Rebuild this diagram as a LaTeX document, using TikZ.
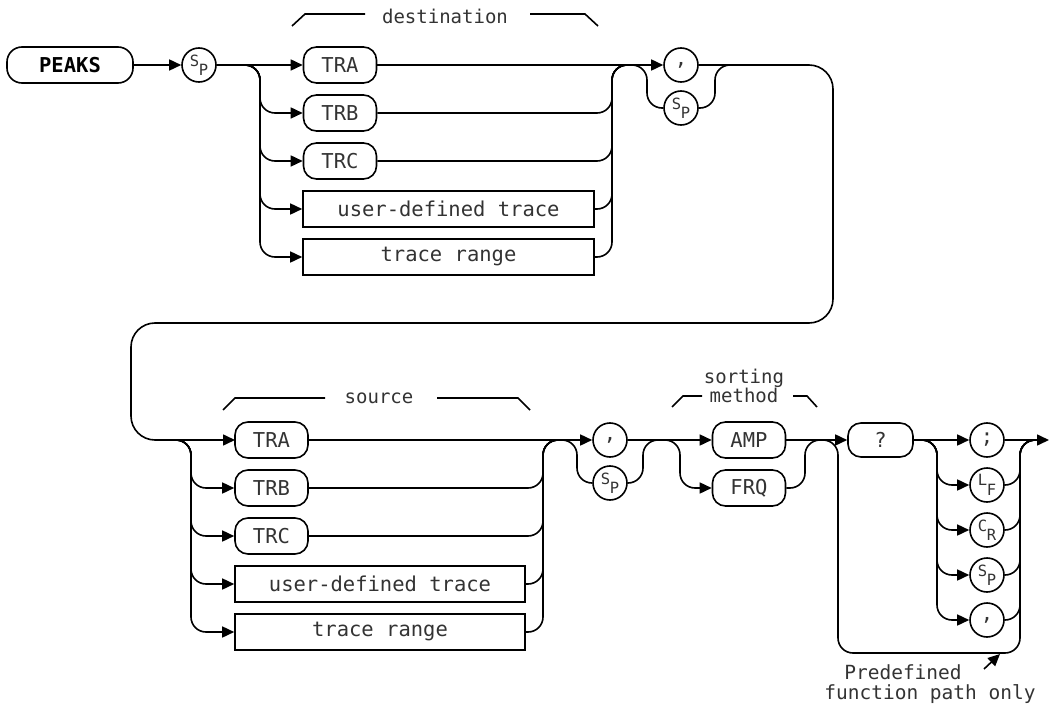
\documentclass[tikz,border=0pt]{standalone}
\usepackage{fontspec}
\setmonofont{DejaVu Sans Mono}
\usetikzlibrary{arrows.meta}
\newcommand\nodefont{\ttfamily\fontsize{20.5}{20.5}\selectfont}
\newcommand\lblfont{\ttfamily\fontsize{19}{18}\selectfont}
\newcommand\notefont{\ttfamily\fontsize{19.5}{19.5}\selectfont}
\newcommand\subfont{\ttfamily\fontsize{15.5}{15.5}\selectfont}
\newcommand\twol[2]{{\subfont\raisebox{3.5pt}{#1}\kern-0.5pt\raisebox{-6pt}{#2}}}
\begin{document}
\begin{tikzpicture}[x=1pt,y=-1pt,line width=1.6pt,
  term/.style={draw,rounded corners=13,minimum height=36,minimum width=73,inner sep=0,font=\nodefont,text=black!80},
  tbox/.style={draw,rectangle,minimum height=36,inner sep=0,font=\nodefont,text=black!80},
  circ/.style={draw,circle,minimum size=34,inner sep=0,font=\nodefont,text=black!80},
  arr/.style={-{Triangle[length=12pt,width=11pt]}},
  rc/.style={rounded corners=15},
  lbl/.style={font=\lblfont,inner sep=0,align=center,text=black!80},
  note/.style={font=\notefont,inner sep=0,text=black!80}]
\useasboundingbox (0,0) rectangle (1050,706);

% ---------- row 1 ----------
\node[term,minimum width=126,rounded corners=15,font=\nodefont\bfseries,text=black] (peaks) at (70,65) {PEAKS};
\node[circ] (sp1) at (199,65) {\twol SP};
\node[term] (dtra) at (340,65) {TRA};
\node[term] (dtrb) at (340,113) {TRB};
\node[term] (dtrc) at (340,161) {TRC};
\node[tbox,minimum width=291] (duser) at (448.5,209) {user-defined trace};
\node[tbox,minimum width=291] (drange) at (448.5,257) {trace range};
\node[circ] (comma1) at (681,65) {,};
\node[circ] (sp2) at (681,108) {\twol SP};

\node[lbl] (dest) at (445,16) {destination};
\draw (292,26) -- (305,14) -- (365,14);
\draw (530,14) -- (585,14) -- (598,26);

\draw[arr] (peaks) -- (sp1);
\draw[arr] (sp1) -- (dtra);
\draw[arr,rc] (sp1.east) -| (260,113) -- (dtrb.west);
\draw[arr,rc] (sp1.east) -| (260,161) -- (dtrc.west);
\draw[arr,rc] (sp1.east) -| (260,209) -- (duser.west);
\draw[arr,rc] (sp1.east) -| (260,257) -- (drange.west);
\draw[rc] (dtrb.east) -| (612,65) -- (630,65);
\draw[rc] (dtrc.east) -| (612,65) -- (630,65);
\draw[rc] (duser.east) -| (612,65) -- (630,65);
\draw[rc] (drange.east) -| (612,65) -- (630,65);
\draw[arr] (dtra) -- (comma1);
\coordinate (b1) at (628,65);
\draw[rc] (b1) -- (647,65) -- (647,108) -- (sp2.west);
\draw[rc] (sp2.east) -| (715,65) -- (735,65);
\draw[arr,rounded corners=24] (comma1.east) -- (833,65) -- (833,323) -- (131,323) -- (131,440) -- (235,440);

% ---------- row 2 ----------
\node[term] (stra) at (271.5,440) {TRA};
\node[term] (strb) at (271.5,488) {TRB};
\node[term] (strc) at (271.5,536) {TRC};
\node[tbox,minimum width=290] (suser) at (380,584) {user-defined trace};
\node[tbox,minimum width=290] (srange) at (380,632) {trace range};
\node[circ] (comma2) at (610,440) {,};
\node[circ] (sp3) at (610,483) {\twol SP};
\node[term] (amp) at (749,440) {AMP};
\node[term] (frq) at (749,488) {FRQ};
\node[term,minimum width=65,minimum height=34] (q) at (880.5,440) {?};
\node[circ] (semi) at (987,440) {;};
\node[circ] (lf) at (987,485) {\twol LF};
\node[circ] (cr) at (987,530) {\twol CR};
\node[circ] (sp4) at (987,575) {\twol SP};
\node[circ] (comma3) at (987,620) {,};
\coordinate (fin) at (1049,440);

\node[lbl] (src) at (379,398) {source};
\draw (223,410) -- (235,398) -- (325,398);
\draw (437,398) -- (518,398) -- (530,410);
\node[lbl] (sort) at (744,386) {sorting\\method};
\draw (672,407) -- (683,396) -- (702,396);
\draw (793,396) -- (807,396) -- (817,407);

\coordinate (j2) at (165,440);
\draw[arr,rc] (j2) -| (191,488) -- (strb.west);
\draw[arr,rc] (j2) -| (191,536) -- (strc.west);
\draw[arr,rc] (j2) -| (191,584) -- (suser.west);
\draw[arr,rc] (j2) -| (191,632) -- (srange.west);
\draw[rc] (strb.east) -| (543,440) -- (560,440);
\draw[rc] (strc.east) -| (543,440) -- (560,440);
\draw[rc] (suser.east) -| (543,440) -- (560,440);
\draw[rc] (srange.east) -| (543,440) -- (560,440);
\draw[arr] (stra) -- (comma2);
\coordinate (b2) at (558,440);
\draw[rc] (b2) -- (577,440) -- (577,483) -- (sp3.west);
\draw[rc] (sp3.east) -| (643,440) -- (660,440);
\draw[arr] (comma2) -- (amp);
\coordinate (j3) at (663,440);
\draw[arr,rc] (j3) -| (680,488) -- (frq.west);
\draw[rc] (frq.east) -| (805,440) -- (822,440);
\coordinate (b3) at (820,440);
\draw[rc] (b3) -- (838,440) -- (838,653) -- (1020,653) -- (1020,440) -- (1037,440);
\draw[arr] (amp) -- (q);
\draw[arr] (q) -- (semi);
\draw[arr] (semi.east) -- (fin);
\draw[arr,rc] (q.east) -| (937,485) -- (lf.west);
\draw[arr,rc] (q.east) -| (937,530) -- (cr.west);
\draw[arr,rc] (q.east) -| (937,575) -- (sp4.west);
\draw[arr,rc] (q.east) -| (937,620) -- (comma3.west);
\draw[rc] (lf.east) -| (1020,440) -- (1037,440);
\draw[rc] (cr.east) -| (1020,440) -- (1037,440);
\draw[rc] (sp4.east) -| (1020,440) -- (1037,440);
\draw[rc] (comma3.east) -| (1020,440) -- (1037,440);

\node[note] (pd1) at (903,672) {Predefined};
\node[note] (pd2) at (930,694.5) {function path only};
\coordinate (pdtail) at (984,669);
\coordinate (pdtip) at (1000,654);
\draw[arr] (pdtail) -- (pdtip);
\end{tikzpicture}
\end{document}
